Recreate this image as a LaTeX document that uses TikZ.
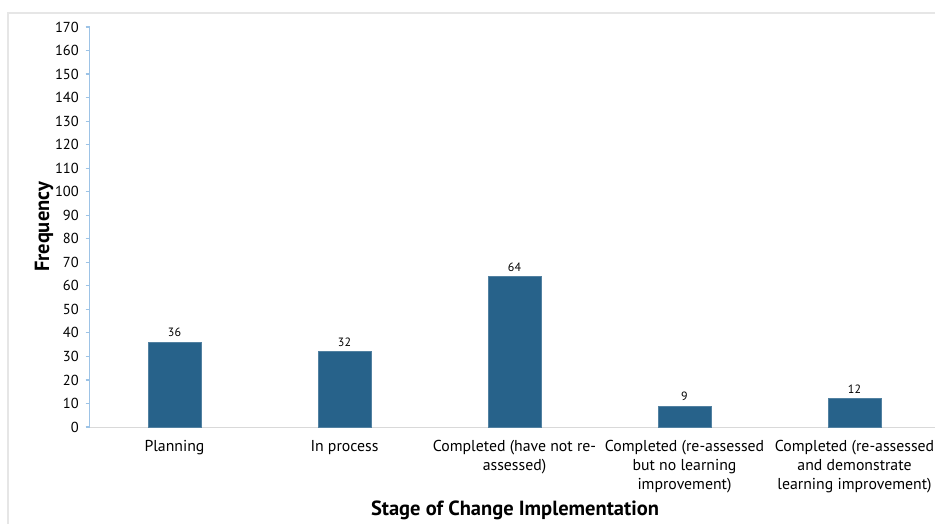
\documentclass[tikz,border=0pt]{standalone}
\usepackage{fontspec}
\setmainfont{PT Sans}
\definecolor{barblue}{RGB}{39,98,138}
\definecolor{axisblue}{RGB}{157,195,230}
\definecolor{framegray}{RGB}{230,230,230}
\definecolor{xaxisgray}{RGB}{217,217,217}
\begin{document}
\begin{tikzpicture}[x=1pt,y=-1pt,
  ticklab/.style={anchor=east,inner sep=0pt,font=\fontsize{14.5}{16}\selectfont},
  vallab/.style={anchor=south,inner sep=0pt,font=\fontsize{12}{13}\selectfont},
  catlab/.style={anchor=north,inner sep=0pt,align=center,font=\fontsize{15.8}{19}\selectfont},
  axtitle/.style={inner sep=0pt,font=\fontsize{20.5}{22}\selectfont\bfseries},
  bar/.style={fill=barblue,draw=barblue!80!white,line width=0.6pt}]
\useasboundingbox (0,0) rectangle (935,523);
\fill[white] (0,0) rectangle (935,523);
% frame
\draw[framegray,line width=2pt] (8,540) -- (8,13) -- (960,13);
% x axis
\draw[xaxisgray,line width=1.2pt] (89.5,427.5) -- (940,427.5);
% y axis
\draw[axisblue,line width=1.3pt] (89.5,27) -- (89.5,428);
\foreach \v [evaluate=\v as \yy using 427-\v*2.3529] in {0,10,...,170}{
  \draw[axisblue,line width=1.2pt] (85.5,\yy) -- (89.5,\yy);
  \node[ticklab] (t\v) at (79,\yy) {\v};
}
% bars
\foreach \i/\val/\lab in {1/36/{Planning},2/32/{In process},3/64/{Completed (have not re-\\assessed)},4/9/{Completed (re-assessed\\but no learning\\improvement)},5/12/{Completed (re-assessed\\and demonstrate\\learning improvement)}}{
  \pgfmathsetmacro{\cx}{89.5+170*\i-85}
  \pgfmathsetmacro{\top}{427-\val*2.3529}
  \draw[bar] (\cx-26.5,427) rectangle (\cx+26.5,\top);
  \node[vallab] (v\i) at (\cx,\top-5) {\val};
  \node[catlab] (c\i) at (\cx,440) {\lab};
}
\node[axtitle,rotate=90] (ytitle) at (44,227) {Frequency};
\node[axtitle] (xtitle) at (515,510) {Stage of Change Implementation};
\end{tikzpicture}
\end{document}
